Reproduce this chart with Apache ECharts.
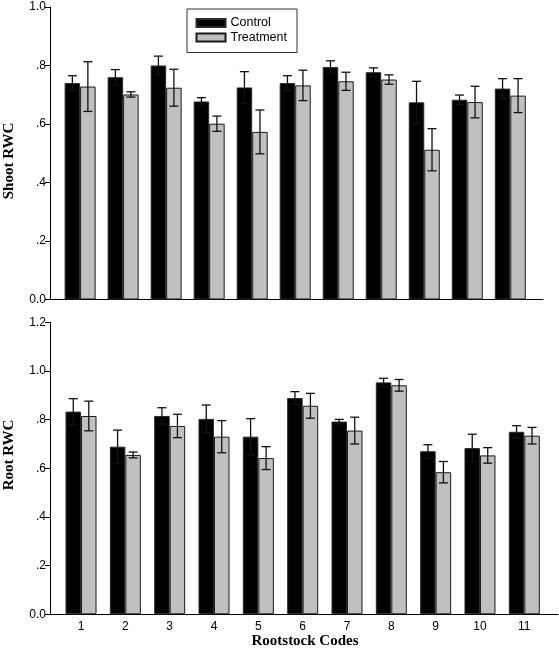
<!DOCTYPE html>
<html>
<head>
<meta charset="utf-8">
<script src="https://cdn.jsdelivr.net/npm/echarts@6/dist/echarts.min.js"></script>
<style>
html,body{margin:0;padding:0;background:#fff;}
#chart{width:559px;height:653px;}
</style>
</head>
<body>
<div id="chart"></div>
<script>
// ---- data ----
var codes = [1, 2, 3, 4, 5, 6, 7, 8, 9, 10, 11];
var seriesNames = ['Control', 'Treatment'];

var shootControl      = [0.740, 0.760, 0.800, 0.677, 0.725, 0.740, 0.795, 0.777, 0.674, 0.683, 0.721];
var shootControlErr   = [0.025, 0.026, 0.032, 0.013, 0.054, 0.025, 0.021, 0.015, 0.072, 0.016, 0.034];
var shootTreatment    = [0.728, 0.701, 0.724, 0.601, 0.573, 0.732, 0.746, 0.752, 0.512, 0.675, 0.697];
var shootTreatmentErr = [0.085, 0.009, 0.063, 0.026, 0.075, 0.052, 0.031, 0.016, 0.072, 0.054, 0.058];

var rootControl       = [0.833, 0.689, 0.815, 0.803, 0.730, 0.889, 0.792, 0.953, 0.670, 0.683, 0.750];
var rootControlErr    = [0.053, 0.068, 0.034, 0.057, 0.074, 0.026, 0.009, 0.017, 0.027, 0.057, 0.025];
var rootTreatment     = [0.815, 0.655, 0.774, 0.730, 0.642, 0.857, 0.755, 0.941, 0.584, 0.653, 0.734];
var rootTreatmentErr  = [0.061, 0.012, 0.048, 0.066, 0.047, 0.051, 0.055, 0.024, 0.044, 0.032, 0.034];

var shootTicks = { min: 0, max: 1.0, interval: 0.2 };
var rootTicks  = { min: 0, max: 1.2, interval: 0.2 };

var yTitles = ['Shoot RWC', 'Root RWC'];
var xTitle = 'Rootstock Codes';

// ---- build ----
var BAR_W = 15.5;
var LABEL_FONT = 'Liberation Sans, Arial, sans-serif';
var TITLE_FONT = 'Liberation Serif, Times New Roman, serif';

function pairs(vals) { return codes.map(function (c, i) { return [c, vals[i]]; }); }
function errPairs(vals, errs) { return codes.map(function (c, i) { return [c, vals[i], errs[i]]; }); }

function yFmt(v) {
  if (v === 0) return '0.0';
  if (v >= 1) return v.toFixed(1);
  return v.toFixed(1).replace(/^0/, '');
}

function errorRender(offset) {
  return function (params, api) {
    var x = api.value(0), m = api.value(1), e = api.value(2);
    var top = api.coord([x, m + e]);
    var bot = api.coord([x, m - e]);
    var cx = top[0] + offset;
    var hw = 4.5;
    var st = { stroke: '#111', lineWidth: 1.3 };
    return {
      type: 'group',
      children: [
        { type: 'line', shape: { x1: cx, y1: top[1], x2: cx, y2: bot[1] }, style: st },
        { type: 'line', shape: { x1: cx - hw, y1: top[1], x2: cx + hw, y2: top[1] }, style: st },
        { type: 'line', shape: { x1: cx - hw, y1: bot[1], x2: cx + hw, y2: bot[1] }, style: st }
      ]
    };
  };
}

var controlStyle = { color: '#000000', borderColor: '#2a2a2a', borderWidth: 1 };
var treatStyle = { color: '#c0c0c0', borderColor: '#1a1a1a', borderWidth: 1 };

function xAxisCfg(idx, showLabels) {
  return {
    type: 'value', gridIndex: idx, min: 0.3, max: 11.76,
    splitLine: { show: false },
    axisLine: { show: true, onZero: false, lineStyle: { color: '#000', width: 1 } },
    axisTick: { show: false },
    axisLabel: showLabels ? {
      show: true, customValues: codes, color: '#000', fontFamily: LABEL_FONT, fontSize: 12, margin: 6,
      formatter: function (v) { return String(v); }
    } : { show: false }
  };
}

function yAxisCfg(idx, t) {
  return {
    type: 'value', gridIndex: idx, min: t.min, max: t.max, interval: t.interval,
    splitLine: { show: false },
    axisLine: { show: true, lineStyle: { color: '#000', width: 1 } },
    axisTick: { show: true, length: 5, lineStyle: { color: '#000' } },
    axisLabel: { color: '#000', fontFamily: LABEL_FONT, fontSize: 12, margin: 4, formatter: yFmt }
  };
}

function barSeries(name, data, xi, style) {
  return {
    name: name, type: 'bar', xAxisIndex: xi, yAxisIndex: xi,
    data: pairs(data), barWidth: BAR_W, barGap: '0%',
    itemStyle: style, emphasis: { disabled: true }, animation: false
  };
}

function errSeries(data, errs, xi, offset) {
  return {
    type: 'custom', xAxisIndex: xi, yAxisIndex: xi, z: 5,
    data: errPairs(data, errs), renderItem: errorRender(offset),
    encode: { x: 0, y: 1 }, animation: false, silent: true
  };
}

var chart = echarts.init(document.getElementById('chart'), null, { renderer: 'canvas' });
chart.setOption({
  backgroundColor: '#fff',
  animation: false,
  grid: [
    { left: 50, top: 7, width: 493, height: 292.5 },
    { left: 50, top: 322.3, width: 508, height: 292 }
  ],
  xAxis: [xAxisCfg(0, false), xAxisCfg(1, true)],
  yAxis: [yAxisCfg(0, shootTicks), yAxisCfg(1, rootTicks)],
  legend: {
    data: seriesNames, orient: 'vertical', left: 187, top: 9,
    itemWidth: 29, itemHeight: 8, itemGap: 0.5,
    padding: [7, 10, 8, 8.5],
    borderColor: '#333', borderWidth: 1,
    icon: 'rect',
    textStyle: { color: '#000', fontFamily: LABEL_FONT, fontSize: 12.5, lineHeight: 14 },
    selectedMode: false
  },
  series: [
    barSeries(seriesNames[0], shootControl, 0, controlStyle),
    barSeries(seriesNames[1], shootTreatment, 0, treatStyle),
    errSeries(shootControl, shootControlErr, 0, -BAR_W / 2),
    errSeries(shootTreatment, shootTreatmentErr, 0, BAR_W / 2),
    barSeries(seriesNames[0], rootControl, 1, controlStyle),
    barSeries(seriesNames[1], rootTreatment, 1, treatStyle),
    errSeries(rootControl, rootControlErr, 1, -BAR_W / 2),
    errSeries(rootTreatment, rootTreatmentErr, 1, BAR_W / 2)
  ],
  graphic: [
    { type: 'text', x: 9.5, y: 161, rotation: Math.PI / 2,
      style: { text: yTitles[0], font: 'bold 15px ' + TITLE_FONT, fill: '#000', align: 'center', verticalAlign: 'middle' } },
    { type: 'text', x: 9.5, y: 455, rotation: Math.PI / 2,
      style: { text: yTitles[1], font: 'bold 15px ' + TITLE_FONT, fill: '#000', align: 'center', verticalAlign: 'middle' } },
    { type: 'text', x: 305, y: 641,
      style: { text: xTitle, font: 'bold 15px ' + TITLE_FONT, fill: '#000', align: 'center', verticalAlign: 'middle' } }
  ]
});
</script>
</body>
</html>
